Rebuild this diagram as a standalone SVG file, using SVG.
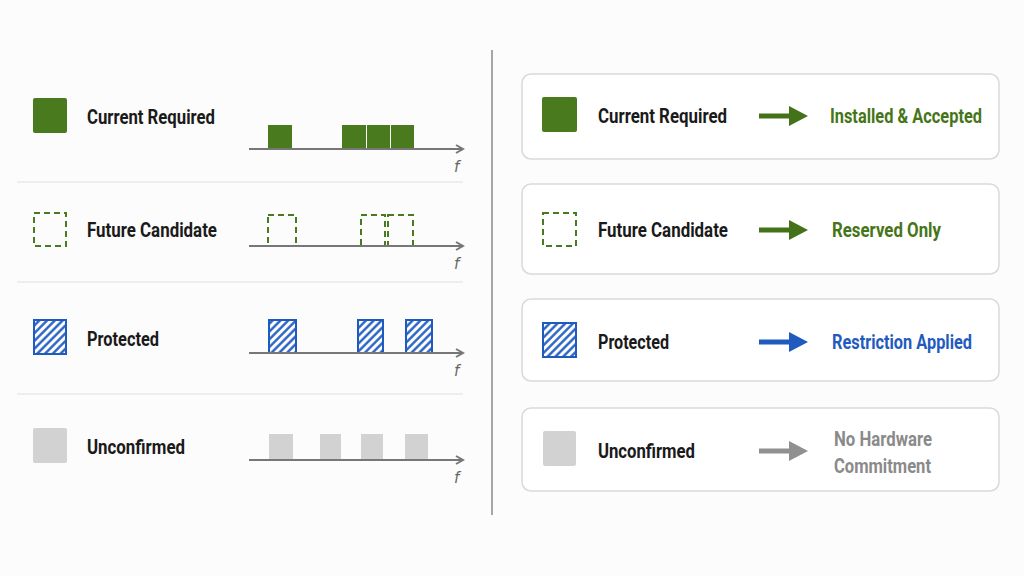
<svg xmlns="http://www.w3.org/2000/svg" width="1024" height="576" viewBox="0 0 1024 576">
<style>
.lbl{font-family:"Roboto","Liberation Sans",sans-serif;font-weight:700;font-size:20px;fill:#1a1a1a}
.res{font-family:"Roboto","Liberation Sans",sans-serif;font-weight:700;font-size:20px}
.fx{font-family:"DejaVu Sans","Liberation Sans",sans-serif;font-style:italic;font-size:15px;fill:#666}
.axis{stroke:#777;stroke-width:2;fill:none}
.sep{stroke:#dde0e6;stroke-width:1.2}
.card{fill:#fff;stroke:#d6d9de;stroke-width:1.5}
.cur{fill:#497a1d}
.fut{fill:none;stroke:#497a1d;stroke-width:2;stroke-dasharray:6 4}
.pro{fill:url(#hatch);stroke:#1f5bbf;stroke-width:2}
.unc{fill:#d2d2d2}
</style>
<defs>
<pattern id="hatch" patternUnits="userSpaceOnUse" width="5.5" height="5.5" patternTransform="rotate(45)">
<rect width="5.5" height="5.5" fill="#fff"/>
<line x1="1.4" y1="0" x2="1.4" y2="5.5" stroke="#1f5bbf" stroke-width="2.3"/>
</pattern>
<marker id="ax" markerWidth="10" markerHeight="10" refX="8" refY="5" orient="auto" markerUnits="userSpaceOnUse">
<polyline points="1,1 8,5 1,9" fill="none" stroke="#777" stroke-width="2"/>
</marker>
</defs>
<rect width="1024" height="576" fill="#fcfcfc"/>

<g id="left-panel">
<g id="row-current">
<rect class="cur" x="33" y="98" width="34" height="35" rx="2"/>
<text class="lbl" x="87" y="124" textLength="128" lengthAdjust="spacingAndGlyphs">Current Required</text>
<rect class="cur" x="268" y="125" width="24" height="24"/>
<rect class="cur" x="342" y="125" width="24" height="24"/>
<rect class="cur" x="367" y="125" width="23" height="24"/>
<rect class="cur" x="391" y="125" width="23" height="24"/>
<line class="axis" x1="249" y1="149" x2="463" y2="149" marker-end="url(#ax)"/>
<text class="fx" x="454" y="172">f</text>
</g>
<line class="sep" x1="17" y1="182" x2="463" y2="182"/>
<g id="row-future">
<rect class="fut" x="34" y="213" width="32" height="33"/>
<text class="lbl" x="87" y="237" textLength="130" lengthAdjust="spacingAndGlyphs">Future Candidate</text>
<rect class="fut" x="268" y="215" width="28" height="31"/>
<rect class="fut" x="361" y="215" width="24" height="31"/>
<rect class="fut" x="388" y="215" width="25" height="31"/>
<line class="axis" x1="249" y1="246" x2="463" y2="246" marker-end="url(#ax)"/>
<text class="fx" x="454" y="269">f</text>
</g>
<line class="sep" x1="17" y1="282" x2="463" y2="282"/>
<g id="row-protected">
<rect class="pro" x="34" y="320" width="32" height="34"/>
<text class="lbl" x="87" y="346" textLength="72" lengthAdjust="spacingAndGlyphs">Protected</text>
<rect class="pro" x="269" y="320" width="27" height="33"/>
<rect class="pro" x="358" y="320" width="25" height="33"/>
<rect class="pro" x="406" y="320" width="26" height="33"/>
<line class="axis" x1="249" y1="353" x2="463" y2="353" marker-end="url(#ax)"/>
<text class="fx" x="454" y="376">f</text>
</g>
<line class="sep" x1="17" y1="394" x2="463" y2="394"/>
<g id="row-unconfirmed">
<rect class="unc" x="33" y="428" width="34" height="35" rx="2"/>
<text class="lbl" x="87" y="454" textLength="98" lengthAdjust="spacingAndGlyphs">Unconfirmed</text>
<rect class="unc" x="269" y="434" width="24" height="26"/>
<rect class="unc" x="320" y="434" width="21" height="26"/>
<rect class="unc" x="361" y="434" width="22" height="26"/>
<rect class="unc" x="405" y="434" width="23" height="26"/>
<line class="axis" x1="249" y1="460" x2="463" y2="460" marker-end="url(#ax)"/>
<text class="fx" x="454" y="483">f</text>
</g>
</g>

<line id="divider" x1="492" y1="50" x2="492" y2="515" stroke="#8a8a8a" stroke-width="1.5"/>

<g id="card-current">
<rect class="card" x="522" y="74" width="477" height="85" rx="9"/>
<rect class="cur" x="542" y="97" width="35" height="35" rx="2"/>
<text class="lbl" x="598" y="123" textLength="129" lengthAdjust="spacingAndGlyphs">Current Required</text>
<text class="res" x="830" y="123" fill="#467519" textLength="152" lengthAdjust="spacingAndGlyphs">Installed &amp; Accepted</text>
</g>
<g id="card-future">
<rect class="card" x="522" y="184" width="477" height="90" rx="9"/>
<rect class="fut" x="543" y="213" width="33" height="33"/>
<text class="lbl" x="598" y="237" textLength="130" lengthAdjust="spacingAndGlyphs">Future Candidate</text>
<text class="res" x="832" y="237" fill="#467519" textLength="109" lengthAdjust="spacingAndGlyphs">Reserved Only</text>
</g>
<g id="card-protected">
<rect class="card" x="522" y="299" width="477" height="82" rx="9"/>
<rect class="pro" x="543" y="323" width="33" height="34"/>
<text class="lbl" x="598" y="349" textLength="71" lengthAdjust="spacingAndGlyphs">Protected</text>
<text class="res" x="832" y="349" fill="#1f5bbf" textLength="140" lengthAdjust="spacingAndGlyphs">Restriction Applied</text>
</g>
<g id="card-unconfirmed">
<rect class="card" x="522" y="408" width="477" height="83" rx="9"/>
<rect class="unc" x="543" y="431" width="33" height="35" rx="2"/>
<text class="lbl" x="598" y="458" textLength="97" lengthAdjust="spacingAndGlyphs">Unconfirmed</text>
<text class="res" x="834" y="446" fill="#8a8a8a" textLength="98" lengthAdjust="spacingAndGlyphs">No Hardware</text>
<text class="res" x="834" y="473" fill="#8a8a8a" textLength="97" lengthAdjust="spacingAndGlyphs">Commitment</text>
</g>

<g id="connectors">
<path d="M759,113.5 H789 V106 L808,116 L789,126 V118.5 H759 Z" fill="#437218"/>
<path d="M759,227.5 H789 V220 L808,230 L789,240 V232.5 H759 Z" fill="#437218"/>
<path d="M759,339.5 H789 V332 L808,342 L789,352 V344.5 H759 Z" fill="#1f5bbf"/>
<path d="M759,448.5 H789 V441 L808,451 L789,461 V453.5 H759 Z" fill="#909090"/>
</g>
</svg>
